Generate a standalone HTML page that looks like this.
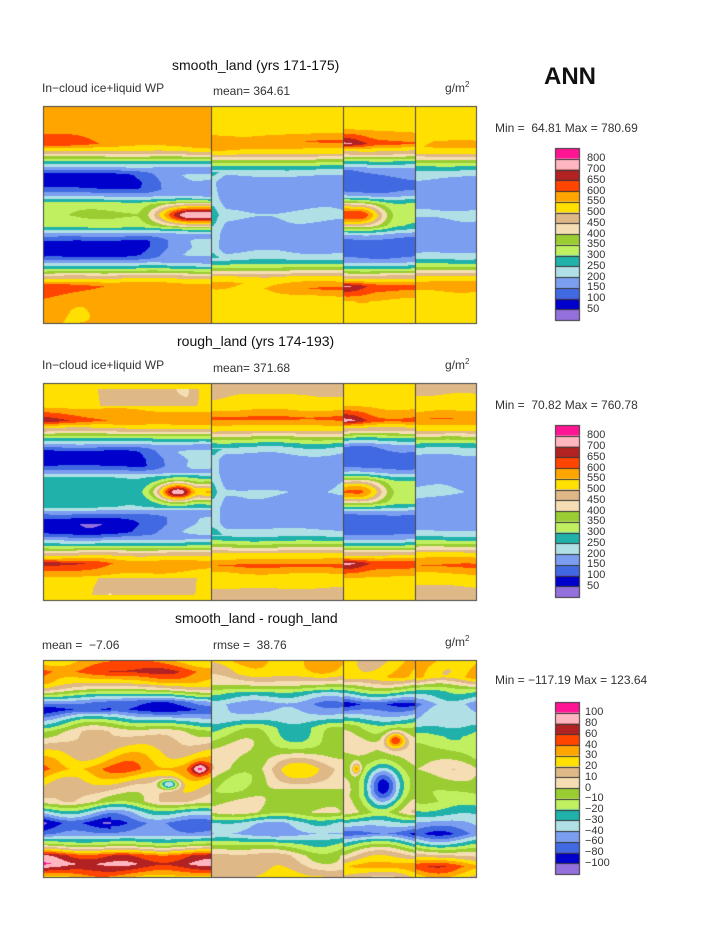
<!DOCTYPE html>
<html><head><meta charset="utf-8"><style>
body{margin:0;background:#fff;width:723px;height:935px;position:relative;overflow:hidden;font-family:"Liberation Sans",sans-serif;color:#111}
.t{position:absolute;white-space:nowrap}
canvas{position:absolute;left:0;top:0}
</style></head><body>
<canvas id="c" width="723" height="935"></canvas>
<div class="t" style="left:172px;top:57px;font-size:14px">smooth_land (yrs 171-175)</div>
<div class="t" style="left:42px;top:81px;font-size:12px;color:#333">In−cloud ice+liquid WP</div>
<div class="t" style="left:213px;top:84px;font-size:12px;color:#333">mean= 364.61</div>
<div class="t" style="left:445px;top:80px;font-size:12px;color:#333">g/m<sup style="font-size:8px">2</sup></div>
<div class="t" style="left:544px;top:63px;font-size:24px;font-weight:bold">ANN</div>
<div class="t" style="left:495px;top:121px;font-size:12px;color:#333">Min =&nbsp; 64.81 Max = 780.69</div>

<div class="t" style="left:177px;top:333px;font-size:14px">rough_land (yrs 174-193)</div>
<div class="t" style="left:42px;top:358px;font-size:12px;color:#333">In−cloud ice+liquid WP</div>
<div class="t" style="left:213px;top:361px;font-size:12px;color:#333">mean= 371.68</div>
<div class="t" style="left:445px;top:357px;font-size:12px;color:#333">g/m<sup style="font-size:8px">2</sup></div>
<div class="t" style="left:495px;top:398px;font-size:12px;color:#333">Min =&nbsp; 70.82 Max = 760.78</div>

<div class="t" style="left:175px;top:610px;font-size:14px">smooth_land - rough_land</div>
<div class="t" style="left:42px;top:638px;font-size:12px;color:#333">mean = &nbsp;−7.06</div>
<div class="t" style="left:213px;top:638px;font-size:12px;color:#333">rmse = &nbsp;38.76</div>
<div class="t" style="left:445px;top:634px;font-size:12px;color:#333">g/m<sup style="font-size:8px">2</sup></div>
<div class="t" style="left:495px;top:673px;font-size:12px;color:#333">Min = −117.19 Max = 123.64</div>
<div id="labs"></div>
<script>
var COL=["#9370db","#0000cd","#4169e1","#7b9ef0","#b0e0e6","#20b2aa","#c0f060","#9acd32","#f5deb3","#deb887","#ffe000","#ffa500","#ff4500","#b22222","#ffb6c1","#ff1493"];
var RGB=COL.map(function(h){return [parseInt(h.substr(1,2),16),parseInt(h.substr(3,2),16),parseInt(h.substr(5,2),16)]});
function S(a,b,x){var t=Math.min(1,Math.max(0,(x-a)/(b-a)));return t*t*(3-2*t);}
function G(x,c,w){return Math.exp(-Math.pow((x-c)/w,2));}
function I(k,a){if(a<=k[0][0])return k[0][1];for(var i=1;i<k.length;i++){if(a<=k[i][0]){var f=(a-k[i-1][0])/(k[i][0]-k[i-1][0]);return k[i-1][1]+f*(k[i][1]-k[i-1][1]);}}return k[k.length-1][1];}
var seed=11;function rnd(){seed=(seed*16807)%2147483647;return seed/2147483647;}
var W=[];for(var i=0;i<28;i++){var fx=0.012+rnd()*0.07,fy=0.025+rnd()*0.11;if(rnd()<.5)fx=-fx;W.push([fx,fy,rnd()*6.28,1/(1+i*0.08)]);}
function N(x,y){var s=0,n=0;for(var i=0;i<W.length;i++){s+=W[i][3]*Math.sin(W[i][0]*x+W[i][1]*y+W[i][2]);n+=W[i][3];}return s/Math.sqrt(n)*0.9;}
function sym(a,lobe,red,edge,c){return I([[0,c],[0.1,c-0.4],[0.14,5],[0.18,3.6],[0.24,Math.max(lobe,2)],[0.3,lobe],[0.37,lobe+0.3],[0.42,3.2],[0.46,4.6],[0.5,6],[0.53,7.5],[0.56,9],[0.6,10.3],[0.66,red],[0.8,edge+0.2],[1,edge]],a);}
function mid(a,band,edge,e2){return I([[0,4.2],[0.15,3.5],[0.3,3.4],[0.38,4.3],[0.43,5.3],[0.47,6.5],[0.5,7.6],[0.53,8.6],[0.57,10.2],[0.63,11.2],[0.68,band],[0.78,10.6],[0.86,e2],[1,edge]],a);}
function f1(x,t,p){var a=Math.abs(t);
 if(x<211){var u=(x-43)/168;var lobe=1.2+3*S(0.42,0.95,u);
  var red=p==1?12.9-1.4*S(0,0.6,u):13.7-2*S(0,0.5,u);
  var edge=11.2;if(p==2){edge=10.4-(a>0.8&&a<0.95?1.2*S(0.25,0.4,u)*(1-S(0.85,0.95,u)):0);}
  var base=sym(a,lobe,red,edge,p==1?7:5.6);
  var amp=p==1?7.8*S(0.55,0.88,u):9*G(u,0.8,0.13)+4.5*S(0.88,1,u);
  return base+amp*G(a,0,0.09);}
 if(x<343){var v=(x-211)/132;var L=p==1?mid(a,11+1.2*S(0.2,0.9,v),10.4,10.5):mid(a,12.3,9.4,10.2);
  if(a<0.4)L+=1.2*(1-S(0,0.12,v));return L;}
 if(x<415){var w=(x-343)/72;var red=(p==1?14.2:14.4)-1.7*S(0,0.5,w);
  var base=sym(a,2.5,red,10.6,6.5);var amp=(p==1?6.5:5.5)*(1-S(0.2,0.8,w));return base+amp*G(a,0,0.11);}
 return p==1?mid(a,11.2,10.4,10.5):mid(a,12,9.4,10.2);}
function f3(x,t){
 if(x<211){var u=(x-43)/168;var L=I([[-1,11],[-0.9,12.8],[-0.8,11],[-0.74,9],[-0.7,7],[-0.62,3],[-0.55,2+(u<0.4?-0.8:0)],[-0.45,5],[-0.35,8],[-0.2,9.5],[0,12],[0.15,10],[0.3,8.5],[0.4,4.5],[0.5,2+(u<0.4?-0.8:0)],[0.6,3],[0.7,7],[0.8,13],[0.88,14.3],[0.95,12.5],[1,11]],t);
  L+=3*G(u,0.93,0.05)*G(t,0,0.06);L-=6*G(u,0.75,0.06)*G(t,0.14,0.05);return L;}
 if(x<343)return I([[-1,10.8],[-0.88,10],[-0.78,8],[-0.7,5.5],[-0.6,3.6],[-0.48,4.5],[-0.38,6.5],[-0.2,7.5],[0,9],[0.2,7.5],[0.4,8],[0.5,4.5],[0.6,3.6],[0.7,6.5],[0.8,8.8],[0.9,9.3],[1,10]],t);
 if(x<415){var w=(x-343)/72;var L=I([[-1,10.5],[-0.85,10.5],[-0.6,2],[-0.4,7],[-0.25,8],[0,8],[0.25,8],[0.4,9],[0.5,5],[0.6,2],[0.75,7],[0.9,11.5],[1,10]],t);
  L-=6.5*G(w,0.55,0.25)*G(t,0.15,0.2);L+=5*G(w,0.72,0.14)*G(t,-0.27,0.08);L+=4*G(w,0.18,0.06)*G(t,0,0.05);return L;}
 return I([[-1,11],[-0.85,11.5],[-0.72,6],[-0.6,3],[-0.42,4.5],[-0.3,6.5],[-0.1,7],[0,8],[0.3,7],[0.5,4],[0.6,3],[0.75,8],[0.9,12],[1,10]],t);}
var cv=document.getElementById('c'),g=cv.getContext('2d');
var img=g.createImageData(723,935),d=img.data;for(var i=0;i<d.length;i++)d[i]=255;
var tops=[107,384,661],H=216;
for(var p=0;p<3;p++){var Y0=tops[p];
 for(var y=Y0;y<Y0+H;y++){var t=(y-Y0+0.5)/H*2-1;
  for(var x=43;x<477;x++){var L=p<2?f1(x,t,p+1):f3(x,t);
   L+=N(x+p*300,y)*(p==2?1.2:0.3);
   var k=Math.max(0,Math.min(15,Math.floor(L)));var c=RGB[k];var o=(y*723+x)*4;d[o]=c[0];d[o+1]=c[1];d[o+2]=c[2];}}}
g.putImageData(img,0,0);
g.strokeStyle="#444";g.lineWidth=1;
for(var p=0;p<3;p++){var Y0=tops[p];g.strokeRect(43.5,Y0-0.5,433,H+1);
 [211,343,415].forEach(function(xx){g.beginPath();g.moveTo(xx+0.5,Y0);g.lineTo(xx+0.5,Y0+H);g.stroke();});}
var bars=[148,425,702],labA=["800","700","650","600","550","500","450","400","350","300","250","200","150","100","50"],
labB=["100","80","60","40","30","20","10","0","−10","−20","−30","−40","−60","−80","−100"];
var html="";
for(var b=0;b<3;b++){var y0=bars[b],h=10.75;
 for(var k=0;k<16;k++){g.fillStyle=COL[15-k];g.fillRect(555,y0+k*h,25,h);g.strokeStyle="#333";g.strokeRect(555.5,Math.round(y0+k*h)+0.5,24,Math.round(h));}
 var L=b<2?labA:labB;for(var k=0;k<15;k++){html+='<div class="t" style="left:'+(b<2?587:585)+'px;top:'+(y0+(k+1)*h-6.5)+'px;font-size:11px;color:#333">'+L[k]+'</div>';}}
document.getElementById('labs').innerHTML=html;
</script>
</body></html>
